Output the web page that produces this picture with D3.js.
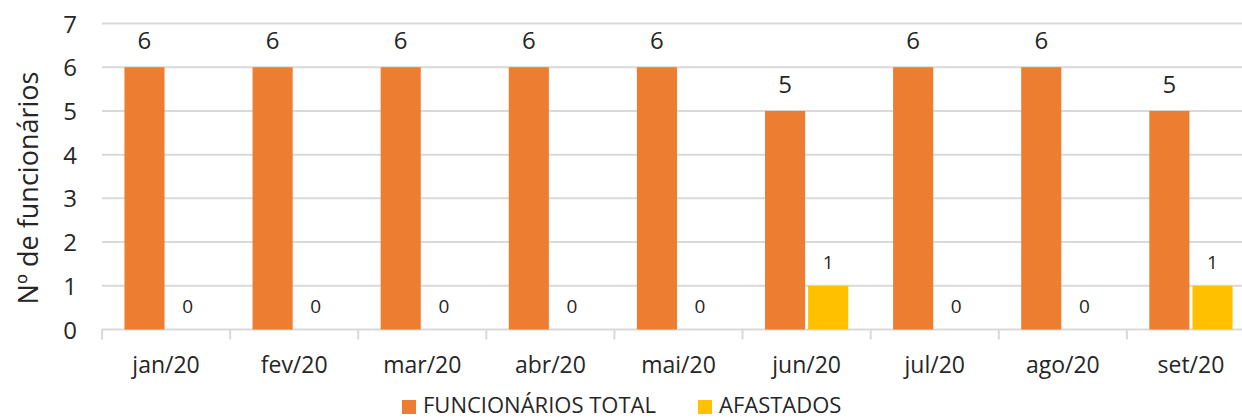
<!DOCTYPE html>
<html>
<head>
<meta charset="utf-8">
<script src="https://cdn.jsdelivr.net/npm/d3@7"></script>
<style>
  body { margin: 0; background: #fff; }
  text { font-family: "Open Sans", Lato, sans-serif; fill: #262626; }
</style>
</head>
<body>
<div id="chart"></div>
<script>
// chart data
var months = ["jan/20", "fev/20", "mar/20", "abr/20", "mai/20", "jun/20", "jul/20", "ago/20", "set/20"];
var totalValues = [6, 6, 6, 6, 6, 5, 6, 6, 5];
var afastadosValues = [0, 0, 0, 0, 0, 1, 0, 0, 1];
var seriesNames = ["FUNCIONÁRIOS TOTAL", "AFASTADOS"];
var seriesColors = ["#ED7D31", "#FFC000"];
var yTicks = [0, 1, 2, 3, 4, 5, 6, 7];

var svgWidth = 1242;
var svgHeight = 418;

var svg = d3.select("#chart")
  .append("svg")
  .attr("width", svgWidth)
  .attr("height", svgHeight);

// scales
var xScale = d3.scaleBand()
  .domain(months)
  .range([102, 1255]);

var innerScale = d3.scaleBand()
  .domain([0, 1])
  .range([0, xScale.bandwidth()])
  .paddingOuter(0.52)
  .paddingInner(0.07);

var yScale = d3.scaleLinear()
  .domain([0, 7])
  .range([329.5, 23.5]);

// gridlines
svg.append("g")
  .selectAll("line")
  .data(yTicks)
  .enter()
  .append("line")
  .attr("x1", 102)
  .attr("x2", 1255)
  .attr("y1", d => yScale(d))
  .attr("y2", d => yScale(d))
  .attr("stroke", "#d9d9d9")
  .attr("stroke-width", 2);

// y axis labels
var leftAxis = d3.axisLeft(yScale).tickValues(yTicks).tickFormat(d3.format("d")).tickSize(0);
var yAxisG = svg.append("g")
  .attr("transform", "translate(77,0)")
  .call(leftAxis);
yAxisG.select(".domain").remove();
yAxisG.selectAll("text")
  .style("font-size", "24px")
  .attr("x", 0)
  .style("text-anchor", "end")
  .attr("dy", "0.36em");

// x axis with category boundary ticks
var xAxisG = svg.append("g")
  .attr("transform", "translate(0," + yScale(0) + ")")
  .call(d3.axisBottom(xScale).tickSize(0).tickPadding(27));
xAxisG.select(".domain").remove();
xAxisG.selectAll("text").style("font-size", "23px");

svg.append("g")
  .selectAll("line")
  .data(months)
  .enter()
  .append("line")
  .attr("x1", d => xScale(d))
  .attr("x2", d => xScale(d))
  .attr("y1", yScale(0))
  .attr("y2", yScale(0) + 10)
  .attr("stroke", "#d9d9d9")
  .attr("stroke-width", 2);

// bars
var rows = months.map(function(m, i) {
  return { month: m, values: [totalValues[i], afastadosValues[i]] };
});

var groups = svg.append("g")
  .selectAll("g")
  .data(rows)
  .enter()
  .append("g")
  .attr("transform", d => "translate(" + xScale(d.month) + ",0)");

groups.selectAll("rect")
  .data(d => d.values.map((v, k) => ({ k: k, v: v })))
  .enter()
  .append("rect")
  .attr("x", d => innerScale(d.k))
  .attr("width", innerScale.bandwidth())
  .attr("y", d => yScale(d.v))
  .attr("height", d => yScale(0) - yScale(d.v))
  .attr("fill", d => seriesColors[d.k]);

// value labels
groups.selectAll("text")
  .data(d => d.values.map((v, k) => ({ k: k, v: v })))
  .enter()
  .append("text")
  .attr("x", d => innerScale(d.k) + innerScale.bandwidth() / 2)
  .attr("y", d => yScale(d.v) - (d.k === 0 ? 18 : 17))
  .style("text-anchor", "middle")
  .style("font-size", d => d.k === 0 ? "24px" : "19px")
  .text(d => d.v);

// y axis title
svg.append("text")
  .attr("transform", "translate(38,188) rotate(-90)")
  .style("text-anchor", "middle")
  .style("font-size", "27px")
  .text("Nº de funcionários");

// legend
var legend = svg.append("g");
var legendX = [402, 698];
seriesNames.forEach(function(name, i) {
  legend.append("rect")
    .attr("x", legendX[i])
    .attr("y", 400)
    .attr("width", 14)
    .attr("height", 14)
    .attr("fill", seriesColors[i]);
  legend.append("text")
    .attr("x", legendX[i] + 21)
    .attr("y", 413)
    .style("font-size", "22px")
    .text(name);
});
</script>
</body>
</html>
